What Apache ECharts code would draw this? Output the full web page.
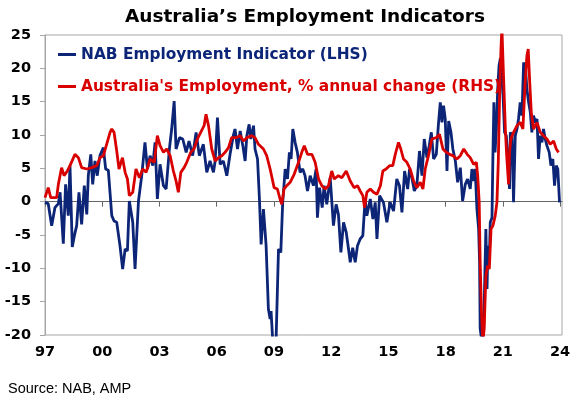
<!DOCTYPE html>
<html><head><meta charset="utf-8">
<script src="https://cdn.jsdelivr.net/npm/echarts@6/dist/echarts.min.js"></script>
<style>html,body{margin:0;padding:0;background:#fff}#c{width:575px;height:402px}</style>
</head><body><div id="c"></div>
<script>
const titleText = 'Australia’s Employment Indicators';
const sourceText = 'Source: NAB, AMP';
const nabName = 'NAB Employment Indicator (LHS)';
const empName = "Australia's Employment, % annual change (RHS)";
const xTickYears = [1997, 2000, 2003, 2006, 2009, 2012, 2015, 2018, 2021, 2024];

// NAB Employment Indicator (LHS): [year, value]
const nabData = [
[1997.00,-0.1],[1997.17,-0.3],[1997.35,-3.6],[1997.52,-0.9],[1997.70,-0.3],[1997.79,1.4],[1997.96,-6.3],[1998.08,2.6],[1998.22,-2.1],[1998.31,5.4],[1998.43,-6.8],[1998.54,-5.1],[1998.66,-3.6],[1998.78,1.4],[1998.92,-3.4],[1999.06,2.4],[1999.19,-1.9],[1999.27,3.9],[1999.40,7.1],[1999.50,2.6],[1999.62,6.1],[1999.74,3.9],[1999.88,6.9],[2000.06,8.1],[2000.18,4.9],[2000.32,4.7],[2000.50,-2.1],[2000.62,-2.9],[2000.76,-3.1],[2000.93,-6.6],[2001.07,-10.1],[2001.20,-7.1],[2001.32,-7.4],[2001.42,0.1],[2001.60,-3.1],[2001.72,-10.1],[2001.90,0.1],[2002.07,3.9],[2002.24,8.9],[2002.37,4.9],[2002.51,6.9],[2002.65,5.4],[2002.77,8.9],[2002.89,0.4],[2003.03,5.6],[2003.21,2.4],[2003.35,1.9],[2003.52,7.9],[2003.64,10.9],[2003.77,15.1],[2003.87,7.9],[2004.05,9.6],[2004.22,9.4],[2004.40,7.4],[2004.55,9.1],[2004.74,6.9],[2004.92,10.4],[2005.09,6.9],[2005.30,8.6],[2005.48,4.4],[2005.65,6.1],[2005.83,4.4],[2005.92,6.1],[2006.04,12.6],[2006.18,5.6],[2006.35,6.1],[2006.53,3.9],[2006.70,7.1],[2006.87,9.9],[2006.96,10.9],[2007.09,7.9],[2007.23,10.6],[2007.37,8.4],[2007.49,6.1],[2007.58,9.9],[2007.70,11.6],[2007.79,9.4],[2007.93,11.4],[2008.01,7.9],[2008.14,6.4],[2008.24,0.4],[2008.33,-6.4],[2008.45,-1.1],[2008.59,-6.6],[2008.71,-16.1],[2008.80,-17.6],[2008.85,-16.4],[2008.94,-21],[2009.11,-21],[2009.24,-7.1],[2009.36,-7.6],[2009.46,-0.1],[2009.59,4.9],[2009.71,3.4],[2009.81,7.4],[2009.90,6.4],[2009.99,10.9],[2010.11,8.9],[2010.23,7.4],[2010.37,4.4],[2010.51,4.9],[2010.63,3.9],[2010.76,1.6],[2010.90,3.9],[2011.07,2.4],[2011.21,4.9],[2011.28,-2.4],[2011.39,2.1],[2011.53,-0.9],[2011.63,2.4],[2011.77,-0.4],[2011.95,3.6],[2012.12,-3.6],[2012.26,-0.4],[2012.38,-1.9],[2012.51,-7.6],[2012.65,-3.1],[2012.79,-4.6],[2012.91,-7.1],[2013.00,-9.1],[2013.13,-6.9],[2013.26,-9.1],[2013.38,-6.6],[2013.52,-5.6],[2013.66,-5.1],[2013.78,0.4],[2013.87,-2.1],[2014.05,0.4],[2014.19,-2.6],[2014.31,-0.1],[2014.40,-5.6],[2014.54,0.9],[2014.74,-0.1],[2014.92,-3.1],[2015.09,-0.1],[2015.27,-1.4],[2015.44,3.4],[2015.58,2.4],[2015.71,-1.6],[2015.85,4.6],[2016.01,1.9],[2016.11,4.9],[2016.23,3.6],[2016.36,1.6],[2016.49,2.4],[2016.63,7.6],[2016.76,3.9],[2016.88,9.4],[2017.02,6.6],[2017.14,8.4],[2017.25,10.4],[2017.37,6.4],[2017.51,7.1],[2017.63,11.9],[2017.72,14.9],[2017.81,11.9],[2017.89,14.4],[2017.98,12.4],[2018.07,4.6],[2018.16,12.1],[2018.28,10.4],[2018.38,7.9],[2018.51,6.1],[2018.63,2.9],[2018.77,5.1],[2018.89,0.1],[2019.03,2.6],[2019.15,3.4],[2019.29,1.9],[2019.38,4.9],[2019.47,3.1],[2019.55,4.9],[2019.64,-1.1],[2019.73,-4.1],[2019.78,-9.1],[2019.81,-19],[2019.90,-21],[2019.99,-19.6],[2020.04,-13.1],[2020.11,-4.1],[2020.17,-13.1],[2020.22,-6.6],[2020.29,-8.6],[2020.34,-3.1],[2020.43,-2.4],[2020.48,7.1],[2020.53,14.9],[2020.59,7.4],[2020.66,10.9],[2020.73,16.9],[2020.80,20.4],[2020.87,21.5],[2021.01,15.9],[2021.09,10.4],[2021.18,9.9],[2021.27,5.9],[2021.35,1.9],[2021.39,10.4],[2021.48,9.9],[2021.56,-0.1],[2021.65,9.9],[2021.74,10.9],[2021.82,12.4],[2021.91,14.9],[2022.00,12.9],[2022.09,20.9],[2022.14,17.4],[2022.19,19.9],[2022.26,16.9],[2022.35,14.9],[2022.44,13.4],[2022.52,10.4],[2022.61,12.9],[2022.70,11.9],[2022.79,12.4],[2022.87,6.4],[2022.96,9.9],[2023.05,8.9],[2023.13,10.9],[2023.22,9.4],[2023.31,8.4],[2023.43,7.4],[2023.52,5.4],[2023.62,6.4],[2023.71,2.4],[2023.80,5.4],[2023.88,4.9],[2023.97,-0.1]
];

// Australia's Employment, % annual change (RHS), read in LHS units: [year, value]
const empData = [
[1997.00,0.6],[1997.17,2.1],[1997.30,0.6],[1997.61,0.6],[1997.70,2.6],[1997.87,5.1],[1998.00,3.9],[1998.17,4.6],[1998.31,5.4],[1998.57,7.1],[1998.75,6.6],[1998.92,5.1],[1999.19,4.9],[1999.45,5.1],[1999.71,5.4],[1999.88,6.6],[2000.06,6.9],[2000.23,8.6],[2000.41,10.4],[2000.50,10.9],[2000.62,10.4],[2000.76,7.6],[2000.88,4.9],[2001.06,6.6],[2001.20,4.4],[2001.32,3.4],[2001.42,0.9],[2001.60,1.4],[2001.77,4.9],[2001.95,3.6],[2002.12,4.9],[2002.30,4.4],[2002.51,6.4],[2002.73,5.9],[2002.89,9.9],[2003.03,8.4],[2003.21,7.4],[2003.38,7.9],[2003.56,6.9],[2003.73,4.6],[2003.87,3.1],[2003.99,1.4],[2004.12,4.4],[2004.29,5.1],[2004.43,5.9],[2004.64,7.4],[2004.81,7.9],[2004.99,9.4],[2005.16,10.4],[2005.34,11.4],[2005.44,13.1],[2005.57,11.4],[2005.74,7.9],[2005.92,6.1],[2006.09,6.6],[2006.27,6.9],[2006.44,7.4],[2006.62,8.1],[2006.78,9.6],[2007.02,9.6],[2007.23,9.9],[2007.40,9.1],[2007.58,9.6],[2007.84,9.9],[2008.01,9.6],[2008.19,8.6],[2008.45,7.9],[2008.62,6.9],[2008.80,4.9],[2009.01,2.1],[2009.18,1.9],[2009.32,0.4],[2009.41,-0.4],[2009.53,1.9],[2009.67,2.4],[2009.85,2.9],[2010.06,4.1],[2010.29,5.9],[2010.46,7.4],[2010.59,8.4],[2010.76,7.1],[2010.99,7.1],[2011.16,5.9],[2011.34,3.4],[2011.51,2.4],[2011.69,1.9],[2011.86,2.4],[2012.03,4.6],[2012.16,3.4],[2012.38,3.9],[2012.56,3.6],[2012.79,4.6],[2013.00,3.1],[2013.20,2.1],[2013.38,2.4],[2013.52,1.6],[2013.66,0.9],[2013.75,-0.9],[2013.87,1.4],[2014.05,1.9],[2014.22,1.4],[2014.40,1.1],[2014.58,2.4],[2014.71,4.6],[2014.88,4.9],[2015.06,5.4],[2015.23,5.4],[2015.36,7.1],[2015.53,8.9],[2015.65,7.9],[2015.79,6.4],[2015.97,5.9],[2016.14,4.9],[2016.32,3.1],[2016.49,2.1],[2016.67,2.9],[2016.81,1.9],[2016.93,4.9],[2017.10,6.9],[2017.28,9.4],[2017.51,9.6],[2017.68,10.1],[2017.86,7.9],[2018.03,7.4],[2018.21,7.1],[2018.38,6.9],[2018.59,6.4],[2018.77,6.9],[2018.95,7.9],[2019.13,7.1],[2019.29,6.6],[2019.47,5.6],[2019.61,5.9],[2019.68,3.9],[2019.76,-0.1],[2019.81,-9.1],[2019.88,-16.6],[2019.95,-21],[2020.02,-19.1],[2020.11,-11.1],[2020.20,-9.6],[2020.29,-10.1],[2020.38,-4.1],[2020.48,-3.6],[2020.60,-2.1],[2020.69,-0.1],[2020.76,5.9],[2020.83,15.9],[2020.90,22.9],[2020.95,26],[2021.04,18.4],[2021.13,10.9],[2021.20,6.9],[2021.30,2.6],[2021.35,7.4],[2021.42,9.4],[2021.56,10.4],[2021.74,11.4],[2021.91,11.9],[2022.05,10.9],[2022.17,17.9],[2022.26,21.9],[2022.33,22.9],[2022.40,18.4],[2022.49,13.4],[2022.61,10.9],[2022.79,11.9],[2022.96,10.4],[2023.13,9.9],[2023.31,9.4],[2023.48,8.6],[2023.66,9.1],[2023.80,7.9],[2023.92,7.4]
];

const navy = '#0c2577';
const red = '#d90000';
const axisFont = { fontFamily: 'DejaVu Sans', fontWeight: 'bold', fontSize: 14.5, color: '#000' };

const chart = echarts.init(document.getElementById('c'), null, { renderer: 'canvas' });
chart.setOption({
  animation: false,
  backgroundColor: '#fff',
  title: [
    { text: titleText, left: 120, top: 3,
      textStyle: { fontFamily: 'DejaVu Sans', fontWeight: 'bold', fontSize: 18.5, color: '#000' } },
    { text: sourceText, left: 3, top: 376,
      textStyle: { fontFamily: 'Liberation Sans', fontWeight: 'normal', fontSize: 14.5, color: '#000' } }
  ],
  legend: {
    orient: 'vertical', left: 53, top: 42, itemGap: 17, itemWidth: 18, itemHeight: 3, icon: 'rect',
    textStyle: { fontFamily: 'DejaVu Sans', fontWeight: 'bold', fontSize: 15.4 },
    data: [
      { name: nabName, textStyle: { color: navy } },
      { name: empName, textStyle: { color: red } }
    ]
  },
  grid: { left: 45, right: 13, top: 35, bottom: 67, show: true, borderColor: '#a6a6a6', borderWidth: 1 },
  xAxis: [
    { type: 'value', min: 1997, max: 2024.1, position: 'bottom',
      axisLine: { show: false, onZero: false }, axisTick: { show: false }, splitLine: { show: false },
      axisLabel: Object.assign({ customValues: xTickYears, formatter: v => String(Math.round(v)).slice(2), margin: 10 }, axisFont) },
    { type: 'value', min: 1997, max: 2024.1, position: 'bottom',
      axisLine: { show: true, onZero: true, onZeroAxisIndex: 0, lineStyle: { color: '#666', width: 1 } },
      axisTick: { show: true, customValues: xTickYears, length: 5, lineStyle: { color: '#666' } },
      axisLabel: { show: false }, splitLine: { show: false } }
  ],
  yAxis: [
    { type: 'value', min: -20, max: 25, interval: 5,
      axisLine: { show: true, onZero: false, lineStyle: { color: '#a6a6a6' } },
      axisTick: { show: true, length: 5, lineStyle: { color: '#a6a6a6' } },
      splitLine: { show: false },
      axisLabel: Object.assign({ margin: 14 }, axisFont) }
  ],
  series: [
    { name: nabName, type: 'line', data: nabData, xAxisIndex: 0, yAxisIndex: 0,
      showSymbol: false, symbol: 'none', color: navy, lineStyle: { color: navy, width: 2.8 }, z: 2 },
    { name: empName, type: 'line', data: empData, xAxisIndex: 0, yAxisIndex: 0,
      showSymbol: false, symbol: 'none', color: red, lineStyle: { color: red, width: 2.8 }, z: 3 }
  ]
});
</script></body></html>
